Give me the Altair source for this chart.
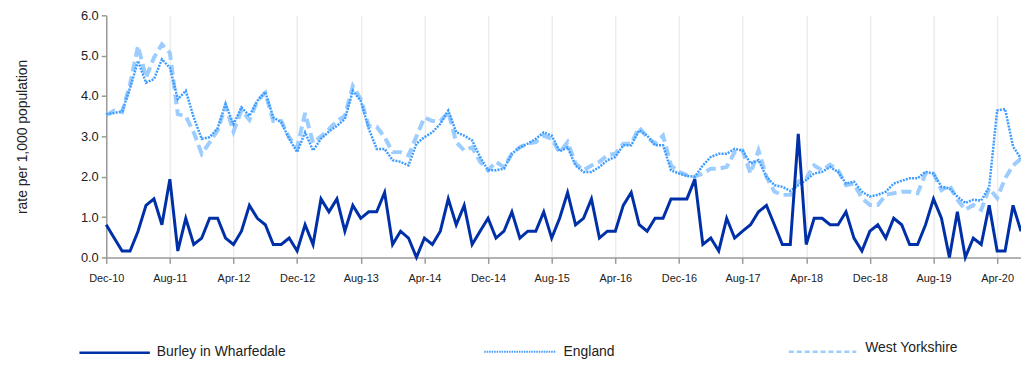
import altair as alt
import pandas as pd

# Monthly periods Dec-10 .. Jul-20
months = pd.date_range("2010-12-01", periods=116, freq="MS").strftime("%b-%y").tolist()
tick_idx = list(range(0, len(months), 8))
tick_labels = [months[i] for i in tick_idx]

series_names = ["Burley in Wharfedale", "England", "West Yorkshire"]

burley = [
    0.81, 0.48, 0.16, 0.16, 0.65, 1.29, 1.45, 0.81, 1.94, 0.16, 0.97, 0.32,
    0.48, 0.97, 0.97, 0.48, 0.32, 0.65, 1.29, 0.97, 0.81, 0.32, 0.32, 0.48,
    0.16, 0.81, 0.32, 1.45, 1.13, 1.45, 0.65, 1.29, 0.97, 1.13, 1.13, 1.61,
    0.32, 0.65, 0.48, 0.00, 0.48, 0.32, 0.65, 1.45, 0.81, 1.29, 0.32, 0.65,
    0.97, 0.48, 0.65, 1.13, 0.48, 0.65, 0.65, 1.13, 0.48, 0.97, 1.61, 0.81,
    0.97, 1.45, 0.48, 0.65, 0.65, 1.29, 1.61, 0.81, 0.65, 0.97, 0.97, 1.45,
    1.45, 1.45, 1.94, 0.32, 0.48, 0.16, 0.97, 0.48, 0.65, 0.81, 1.13, 1.29,
    0.81, 0.32, 0.32, 3.06, 0.32, 0.97, 0.97, 0.81, 0.81, 1.13, 0.48, 0.16,
    0.65, 0.81, 0.48, 0.97, 0.81, 0.32, 0.32, 0.81, 1.45, 0.97, 0.00, 1.13,
    0.00, 0.48, 0.32, 1.29, 0.16, 0.16, 1.29, 0.65,
]

england = [
    3.55, 3.58, 3.62, 4.20, 4.87, 4.33, 4.42, 4.91, 4.70, 3.92, 4.13, 3.47,
    2.94, 2.98, 3.20, 3.80, 3.30, 3.72, 3.51, 3.88, 4.10, 3.47, 3.35, 2.94,
    2.61, 3.10, 2.65, 2.94, 3.12, 3.26, 3.43, 4.13, 3.88, 3.19, 2.69, 2.69,
    2.41, 2.37, 2.28, 2.82, 2.98, 3.10, 3.31, 3.64, 3.10, 3.02, 2.90, 2.49,
    2.16, 2.16, 2.20, 2.57, 2.73, 2.82, 2.94, 3.10, 3.02, 2.63, 2.73, 2.28,
    2.12, 2.12, 2.24, 2.41, 2.49, 2.78, 2.78, 3.15, 3.02, 2.78, 2.78, 2.16,
    2.08, 2.02, 2.00, 2.28, 2.49, 2.57, 2.57, 2.69, 2.65, 2.33, 2.41, 2.00,
    1.79, 1.75, 1.65, 1.79, 1.92, 2.08, 2.12, 2.24, 2.12, 1.83, 1.88, 1.63,
    1.51, 1.55, 1.63, 1.83, 1.90, 1.96, 1.96, 2.12, 2.08, 1.75, 1.71, 1.51,
    1.35, 1.43, 1.41, 1.75, 3.64, 3.68, 2.75, 2.45,
]

west_yorkshire = [
    3.52, 3.64, 3.60, 4.30, 5.24, 4.46, 4.95, 5.28, 5.07, 3.55, 3.50, 3.10,
    2.57, 2.85, 3.15, 3.76, 3.12, 3.65, 3.41, 3.88, 4.08, 3.38, 3.38, 2.97,
    2.72, 3.58, 2.84, 3.00, 3.18, 3.38, 3.51, 4.25, 3.92, 3.26, 3.24, 2.98,
    2.61, 2.61, 2.53, 3.00, 3.47, 3.38, 3.38, 3.60, 2.86, 2.65, 2.73, 2.37,
    2.16, 2.37, 2.24, 2.57, 2.73, 2.82, 2.86, 3.02, 2.94, 2.60, 2.86, 2.33,
    2.16, 2.28, 2.37, 2.53, 2.57, 2.82, 2.82, 3.22, 2.98, 2.82, 3.02, 2.28,
    2.12, 2.04, 2.00, 2.08, 2.20, 2.20, 2.24, 2.61, 2.65, 2.08, 2.65, 2.00,
    1.63, 1.55, 1.55, 1.88, 1.96, 2.28, 2.16, 2.30, 2.16, 1.79, 1.83, 1.47,
    1.30, 1.30, 1.55, 1.59, 1.63, 1.63, 1.59, 2.08, 2.08, 1.67, 1.79, 1.43,
    1.18, 1.30, 1.18, 1.71, 1.47, 1.96, 2.28, 2.45,
]

FONT = "Liberation Sans"
AXIS_GRAY = "#9a9a9a"
C_BURLEY = "#0030a8"
C_ENG = "#3d9cff"
C_WY = "#9dcdff"

label_array = "[" + ",".join("'%s'" % t for t in tick_labels) + "]"

x_enc = alt.X(
    "idx:Q",
    scale=alt.Scale(domain=[0, len(months) - 1], nice=False, zero=False),
    axis=alt.Axis(
        values=tick_idx, labelExpr=label_array + "[round(datum.value / 8)]",
        labelAngle=0, title=None, grid=True,
        gridColor="#ececec", gridWidth=1.5, domainColor=AXIS_GRAY,
        domainWidth=1.5, tickColor=AXIS_GRAY, tickWidth=1.5, tickSize=6,
        labelFontSize=11, labelPadding=9, labelColor="#222222",
        labelOverlap=False, labelBound=False, labelFlush=False,
    ),
)
y_enc = alt.Y(
    "value:Q",
    scale=alt.Scale(domain=[0, 6], nice=False),
    axis=alt.Axis(
        values=[0, 1, 2, 3, 4, 5, 6], format=".1f", grid=False,
        title="rate per 1,000 population", titleFontSize=14,
        titleFontWeight="normal", titleColor="#222222", titlePadding=51,
        labelFontSize=13, labelColor="#222222", tickSize=5, labelPadding=3,
        domainColor=AXIS_GRAY, domainWidth=1.5, tickColor=AXIS_GRAY, tickWidth=1.5,
        labelFlush=False,
    ),
)


def frame(vals):
    return pd.DataFrame({"idx": list(range(len(months))), "month": months, "value": vals})


wy_line = alt.Chart(frame(west_yorkshire)).mark_line(
    color=C_WY, strokeWidth=4, strokeDash=[10, 5]
).encode(x=x_enc, y=y_enc)

eng_line = alt.Chart(frame(england)).mark_line(
    color=C_ENG, strokeWidth=2.5, strokeDash=[2, 1.2]
).encode(x=x_enc, y=y_enc)

burley_line = alt.Chart(frame(burley)).mark_line(
    color=C_BURLEY, strokeWidth=3
).encode(x=x_enc, y=y_enc)


def legend_item(name, color, width, dash, x0, x1, y_line, x_text, y_text):
    d = pd.DataFrame({"s": [name]})
    rule_kwargs = dict(color=color, strokeWidth=width)
    if dash:
        rule_kwargs["strokeDash"] = dash
    rule = alt.Chart(d).mark_rule(**rule_kwargs).encode(
        x=alt.value(x0), x2=alt.value(x1), y=alt.value(y_line)
    )
    txt = alt.Chart(d).mark_text(
        align="left", baseline="middle", fontSize=14, color="#222222", font=FONT
    ).encode(text="s:N", x=alt.value(x_text), y=alt.value(y_text))
    return [rule, txt]


legend_layers = (
    legend_item(series_names[0], C_BURLEY, 2.5, None, -27, 44, 340, 51, 339)
    + legend_item(series_names[1], C_ENG, 2, [1.5, 1], 381, 453, 339, 461, 339)
    + legend_item(series_names[2], C_WY, 2.5, [5, 3], 688, 756, 339, 765, 335)
)

chart = alt.layer(wy_line, eng_line, burley_line, *legend_layers).properties(
    width=922,
    height=244,
    padding={"left": 99, "top": 6, "right": 0, "bottom": 103},
    autosize=alt.AutoSizeParams(type="none"),
).configure_view(stroke=None).configure_axis(
    labelFont=FONT, titleFont=FONT
).configure_text(font=FONT)

chart.save("out.html", embed_options={"renderer": "svg", "actions": False})
